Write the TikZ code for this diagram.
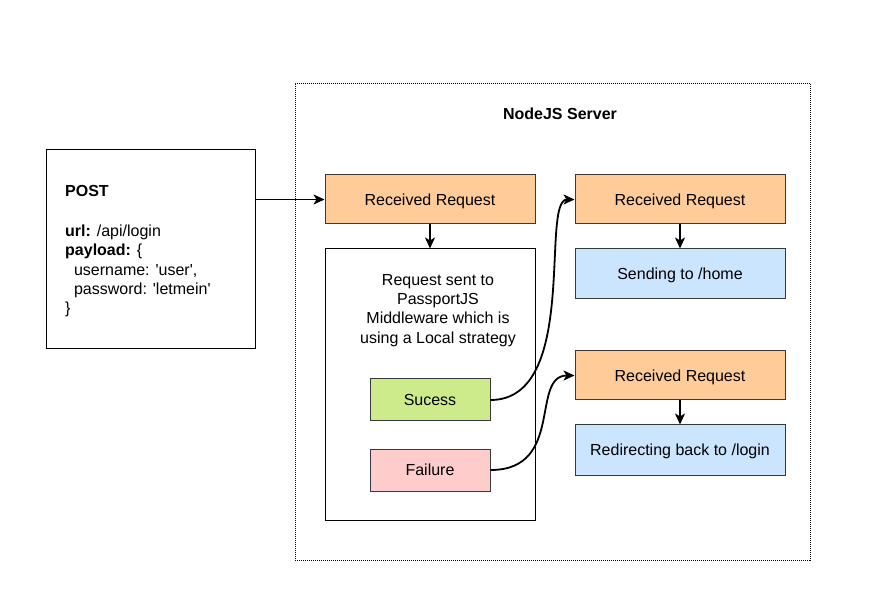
\documentclass[tikz,border=0pt]{standalone}
\usepackage{fontspec}
\setmainfont{Liberation Sans}
\usetikzlibrary{arrows.meta}

\definecolor{reqfill}{HTML}{FFCC99}
\definecolor{sendfill}{HTML}{CCE5FF}
\definecolor{okfill}{HTML}{CDEB8B}
\definecolor{failfill}{HTML}{FFCCCC}
\definecolor{edgeline}{HTML}{36393D}

\begin{document}
\begin{tikzpicture}[x=1pt,y=-1pt,
  txt/.style={font=\fontsize{16}{19.3}\selectfont},
  plainbox/.style={draw=black,line width=1pt,inner sep=0pt},
  colbox/.style={draw=edgeline,line width=1pt,inner sep=0pt,text depth=0pt,txt},
  reqbox/.style={colbox,fill=reqfill,minimum width=210pt,minimum height=49pt},
  sendbox/.style={colbox,fill=sendfill,minimum width=210pt,minimum height=50pt},
  flow/.style={line width=1.8pt,-{Stealth[length=11pt,width=10pt,inset=3pt]}}]
\useasboundingbox (0,0) rectangle (881,601);

% server frame
\node[draw=black,line width=0.8pt,dash pattern=on 1pt off 1pt,minimum width=515pt,minimum height=477pt] (server) at (552.5,321.5) {};
\node[txt,font=\fontsize{16}{19.3}\selectfont\bfseries] (title) at (560,114) {NodeJS Server};

% client request
\node[plainbox,minimum width=209pt,minimum height=199pt] (post) at (150.5,249.5) {};
\node[txt,anchor=north west,align=left,inner sep=0pt] (posttext) at (65,185.5) {\textbf{POST}\\[20.5pt]
\textbf{url:} /api/login\\
\textbf{payload:} \{\\
\ \ username: \textquotesingle user\textquotesingle,\\
\ \ password: \textquotesingle letmein\textquotesingle\\
\}};

% passport
\node[reqbox] (recv) at (430,199.5) {Received Request};
\node[plainbox,minimum width=210pt,minimum height=271pt] (passport) at (430,384.5) {};
\node[txt,align=center] (passtext) at (438,310.5) {Request sent to\\PassportJS\\Middleware which is\\using a Local strategy};
\node[colbox,fill=okfill,minimum width=120pt,minimum height=42pt] (sucess) at (430,400) {Sucess};
\node[colbox,fill=failfill,minimum width=120pt,minimum height=42pt] (failure) at (430,470) {Failure};

% outcomes
\node[reqbox] (recvok) at (680,199.5) {Received Request};
\node[sendbox] (home) at (680,274) {Sending to /home};
\node[reqbox] (recvfail) at (680,375.5) {Received Request};
\node[sendbox] (login) at (680,450) {Redirecting back to /login};

\draw[flow] (post.east |- recv) -- (recv.west);
\foreach \a/\b in {recv/passport,recvok/home,recvfail/login} {
\draw[flow] (\a.south) -- (\b.north);
}
\draw[flow] (sucess.east) .. controls (580,400) and (540,199.5) .. (recvok.west);
\draw[flow] (failure.east) .. controls (565,470) and (530,375.5) .. (recvfail.west);
\end{tikzpicture}
\end{document}
